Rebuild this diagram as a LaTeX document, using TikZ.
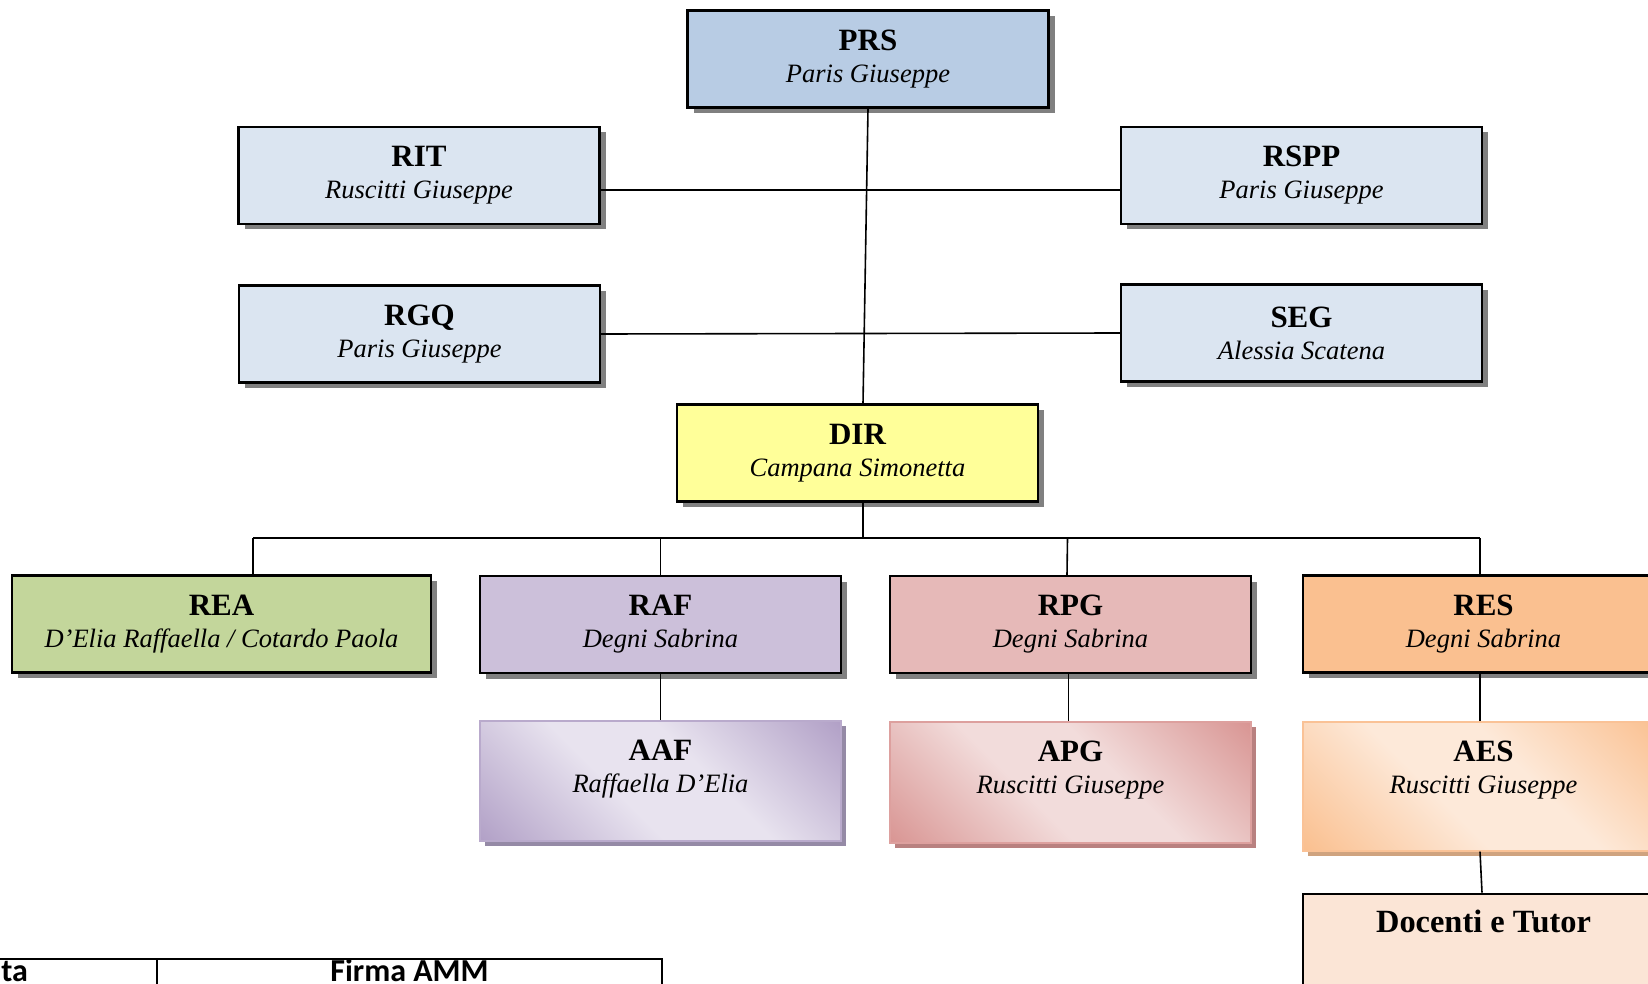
\documentclass[tikz,border=0pt]{standalone}
\usepackage{fontspec}
\setmainfont{Liberation Serif}
\newfontfamily\formfont{Carlito}
\usetikzlibrary{positioning, shadows}

\definecolor{prsblue}{HTML}{B8CCE4}
\definecolor{staffblue}{HTML}{DBE5F1}
\definecolor{diryellow}{HTML}{FFFF99}
\definecolor{reagreen}{HTML}{C3D69B}
\definecolor{raflilac}{HTML}{CCC0DA}
\definecolor{rpgrose}{HTML}{E6B9B8}
\definecolor{respeach}{HTML}{FAC090}
\definecolor{aafdark}{HTML}{B2A1C7}
\definecolor{aaflight}{HTML}{E8E3EF}
\definecolor{aafline}{HTML}{B9AACC}
\definecolor{aafshade}{HTML}{958AA6}
\definecolor{apgdark}{HTML}{D99694}
\definecolor{apglight}{HTML}{F2DCDB}
\definecolor{apgline}{HTML}{DDA09E}
\definecolor{apgshade}{HTML}{B98180}
\definecolor{aesdark}{HTML}{FAC090}
\definecolor{aeslight}{HTML}{FDE9D9}
\definecolor{aesline}{HTML}{FAC296}
\definecolor{aesshade}{HTML}{CFA37F}
\definecolor{docpeach}{HTML}{FBE5D6}

% diagonal shadings for the assistant boxes
\pgfdeclareverticalshading{aafglow}{100bp}{color(0bp)=(aafdark); color(15bp)=(aafdark);
  color(42bp)=(aaflight); color(58bp)=(aaflight); color(85bp)=(aafdark); color(100bp)=(aafdark)}
\pgfdeclareverticalshading{apgglow}{100bp}{color(0bp)=(apgdark); color(15bp)=(apgdark);
  color(42bp)=(apglight); color(58bp)=(apglight); color(85bp)=(apgdark); color(100bp)=(apgdark)}
\pgfdeclareverticalshading{aesglow}{100bp}{color(0bp)=(aesdark); color(15bp)=(aesdark);
  color(42bp)=(aeslight); color(58bp)=(aeslight); color(85bp)=(aesdark); color(100bp)=(aesdark)}

\newcommand{\rolename}[1]{{\fontsize{15.5}{16}\selectfont\bfseries\upshape #1}}

\begin{document}
\begin{tikzpicture}[
    x=0.5pt, y=-0.5pt,
    every node/.style={font=\fontsize{13.25}{16}\selectfont\itshape, align=center, inner sep=0pt},
    unit/.style={draw, line width=1.2pt, minimum width=180.5pt, minimum height=48.5pt,
      drop shadow={shadow xshift=3pt, shadow yshift=-2.75pt, fill=black!50, opacity=1}},
    assist/.style n args={3}{draw=#1, line width=1pt, minimum width=180.5pt,
      shade, shading=#2, shading angle=-45,
      drop shadow={shadow xshift=2.5pt, shadow yshift=-2.5pt, fill=#3, opacity=1}},
    link/.style={line width=0.8pt},
    formtext/.style={font=\formfont\fontsize{16}{18}\selectfont\bfseries, anchor=base},
  ]
  \useasboundingbox (0,0) rectangle (1648,984);
  \clip (0,0) rectangle (1648,984);

  % top of the chart
  \node[unit, fill=prsblue] (PRS) at (868,59) {\rolename{PRS}\\Paris Giuseppe};
  \node[unit, fill=staffblue] (RIT) at (419,175.5) {\rolename{RIT}\\Ruscitti Giuseppe};
  \node[unit, fill=staffblue] (RSPP) at (1301.5,175.5) {\rolename{RSPP}\\Paris Giuseppe};
  \node[unit, fill=staffblue] (RGQ) at (419.5,334) {\rolename{RGQ}\\Paris Giuseppe};
  \node[unit, fill=staffblue] (SEG) at (1301.5,333) {\rolename{SEG}\\Alessia Scatena};
  \node[unit, fill=diryellow] (DIR) at (857.5,453) {\rolename{DIR}\\Campana Simonetta};

  % areas
  \node[unit, fill=reagreen, minimum width=209.5pt] (REA) at (221.5,624) {\rolename{REA}\\D'Elia Raffaella / Cotardo Paola};
  \node[unit, fill=raflilac] (RAF) at (660.5,624.5) {\rolename{RAF}\\Degni Sabrina};
  \node[unit, fill=rpgrose] (RPG) at (1070.5,624.5) {\rolename{RPG}\\Degni Sabrina};
  \node[unit, fill=respeach] (RES) at (1483.5,624) {\rolename{RES}\\Degni Sabrina};

  % assistants
  \node[assist={aafline}{aafglow}{aafshade}, minimum height=60pt, below=23pt of RAF] (AAF) {\rolename{AAF}\\Raffaella D'Elia\\[-1pt]};
  \node[assist={apgline}{apgglow}{apgshade}, minimum height=60.5pt, below=23.5pt of RPG] (APG) {\rolename{APG}\\Ruscitti Giuseppe\\[-1pt]};
  \node[assist={aesline}{aesglow}{aesshade}, minimum height=64.5pt, below=23.5pt of RES] (AES) {\rolename{AES}\\Ruscitti Giuseppe\\[3pt]};
  \node[draw, line width=1.2pt, fill=docpeach, minimum width=180.5pt, inner ysep=8.5pt,
    text height=10.7pt, text depth=60pt, below=20.5pt of AES] (DOC)
    {{\fontsize{16.2}{18}\selectfont\bfseries\upshape Docenti e Tutor}};

  % connectors
  \coordinate (spine) at (863,538);
  \coordinate (busL) at (253,538);
  \coordinate (busR) at (1480,538);
  \draw[link] (PRS.south) -- (spine |- DIR.north);
  \draw[link] ([yshift=-7.25pt]RIT.east) -- ([yshift=-7.25pt]RSPP.west);
  \draw[link] (RGQ.east) -- (SEG.west);
  \draw[link] (spine |- DIR.south) -- (spine);
  \draw[link] (busL) -- (busR);
  \draw[link] (busL) -- (busL |- REA.north);
  \draw[link] (RAF.north |- spine) -- (RAF.north);
  \draw[link] ([xshift=-1.5pt]RPG.north |- spine) -- ([xshift=-1.75pt]RPG.north);
  \draw[link] (busR) -- (busR |- RES.north);
  \draw[link] (RAF.south) -- (AAF.north);
  \draw[link] ([xshift=-1pt]RPG.south) -- ([xshift=-1pt]APG.north);
  \draw[link] ([xshift=-1.75pt]RES.south) -- ([xshift=-1.75pt]AES.north);
  \draw[link] ([xshift=-1.75pt]AES.south) -- ([xshift=-0.75pt]DOC.north);

  % signature table
  \draw[line width=1pt] (-10,959) -- (662,959) -- (662,1000);
  \draw[line width=1pt] (157,959) -- (157,1000);
  \node[formtext, anchor=base west] (data) at (1,981) {ta};
  \node[formtext] (firma) at (409.5,981) {Firma AMM};
\end{tikzpicture}
\end{document}
